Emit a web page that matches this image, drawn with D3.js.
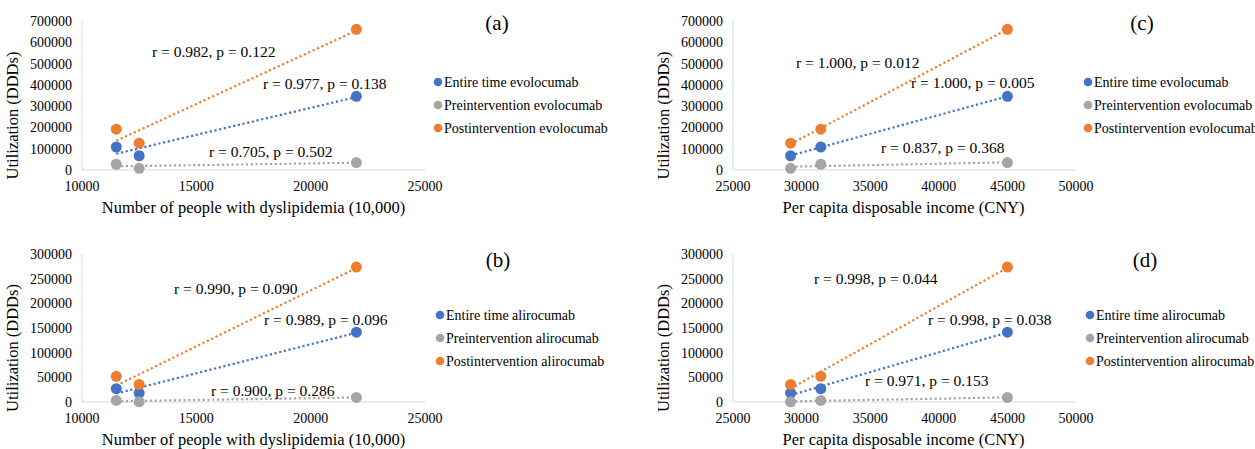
<!DOCTYPE html>
<html>
<head>
<meta charset="utf-8">
<script src="https://cdn.jsdelivr.net/npm/d3@7"></script>
<style>
  html, body { margin: 0; padding: 0; background: #fff; }
  svg text { font-family: "Liberation Serif", "Times New Roman", serif; fill: #000; }
</style>
</head>
<body>
<svg id="chart" width="1255" height="449"></svg>
<script>
// ---- data ----
const dyslipidemia = [11500, 12500, 22000];   // x for panels (a),(b)
const income = [31400, 29200, 45000];         // x for panels (c),(d)
const evoEntire = [108000, 67000, 346000];
const evoPre = [27000, 8000, 35000];
const evoPost = [192000, 126000, 661000];
const aliEntire = [27000, 18000, 141500];
const aliPre = [3200, 500, 9300];
const aliPost = [52000, 35500, 273500];
const xTicksA = [10000, 15000, 20000, 25000];
const xTicksC = [25000, 30000, 35000, 40000, 45000, 50000];
const yTicksEvo = [0, 100000, 200000, 300000, 400000, 500000, 600000, 700000];
const yTicksAli = [0, 50000, 100000, 150000, 200000, 250000, 300000];
const evoLegend = ["Entire time evolocumab", "Preintervention evolocumab", "Postintervention evolocumab"];
const aliLegend = ["Entire time alirocumab", "Preintervention alirocumab", "Postintervention alirocumab"];
const statsA = ["r = 0.977, p = 0.138", "r = 0.705, p = 0.502", "r = 0.982, p = 0.122"];
const statsB = ["r = 0.989, p = 0.096", "r = 0.900, p = 0.286", "r = 0.990, p = 0.090"];
const statsC = ["r = 1.000, p = 0.005", "r = 0.837, p = 0.368", "r = 1.000, p = 0.012"];
const statsD = ["r = 0.998, p = 0.038", "r = 0.971, p = 0.153", "r = 0.998, p = 0.044"];

const colors = ["#4472C4", "#A5A5A5", "#ED7D31"];
const svg = d3.select("#chart");

function regression(xs, ys) {
  const mx = d3.mean(xs), my = d3.mean(ys);
  let sxy = 0, sxx = 0;
  xs.forEach((x, i) => { sxy += (x - mx) * (ys[i] - my); sxx += (x - mx) * (x - mx); });
  const b = sxy / sxx;
  return x => my + b * (x - mx);
}

function drawPanel(p) {
  const g = svg.append("g");
  const x = d3.scaleLinear().domain(p.xDomain).range([p.left, p.right]);
  const y = d3.scaleLinear().domain(p.yDomain).range([p.bottom, p.top]);

  // axes lines
  g.append("line").attr("x1", p.left).attr("x2", p.left).attr("y1", p.top).attr("y2", p.bottom)
    .attr("stroke", "#d9d9d9").attr("stroke-width", 1);
  g.append("line").attr("x1", p.left).attr("x2", p.right).attr("y1", p.bottom).attr("y2", p.bottom)
    .attr("stroke", "#d9d9d9").attr("stroke-width", 1);

  // y tick labels
  g.selectAll(".yt").data(p.yTicks).enter().append("text")
    .attr("x", p.left - 10).attr("y", d => y(d) + 5)
    .attr("text-anchor", "end").attr("font-size", 14).text(d => d);
  // x tick labels
  g.selectAll(".xt").data(p.xTicks).enter().append("text")
    .attr("x", d => x(d)).attr("y", p.bottom + 21)
    .attr("text-anchor", "middle").attr("font-size", 14).text(d => d);

  // axis titles
  g.append("text").attr("x", (p.left + p.right) / 2 + p.xTitleDx).attr("y", p.bottom + 43)
    .attr("text-anchor", "middle").attr("font-size", 16.5).text(p.xTitle);
  g.append("text")
    .attr("transform", `translate(${p.left - 64},${(p.top + p.bottom) / 2 + 20}) rotate(-90)`)
    .attr("text-anchor", "middle").attr("font-size", 16.5).text("Utilization (DDDs)");

  // trendlines (drawn first) and points
  p.series.forEach((s, i) => {
    const f = regression(p.xs, s);
    const [x0, x1] = d3.extent(p.xs);
    g.append("line")
      .attr("x1", x(x0)).attr("y1", y(f(x0)))
      .attr("x2", x(x1)).attr("y2", y(f(x1)))
      .attr("stroke", colors[i]).attr("stroke-width", 2.2)
      .attr("stroke-dasharray", "2.2,2.6");
  });
  p.series.forEach((s, i) => {
    g.selectAll(".pt" + i).data(s).enter().append("circle")
      .attr("cx", (d, j) => x(p.xs[j])).attr("cy", d => y(d))
      .attr("r", 5.5).attr("fill", colors[i]);
  });

  // stats annotations
  p.stats.forEach((t, i) => {
    g.append("text").attr("x", p.statPos[i][0]).attr("y", p.statPos[i][1])
      .attr("font-size", 15.5).text(t);
  });

  // legend
  p.legend.forEach((t, i) => {
    const ly = p.legendY + i * 23;
    g.append("circle").attr("cx", p.legendX).attr("cy", ly).attr("r", 4.3).attr("fill", colors[i]);
    g.append("text").attr("x", p.legendX + 6).attr("y", ly + 5).attr("font-size", 14).text(t);
  });

  // panel label
  g.append("text").attr("x", p.labelX).attr("y", p.labelY)
    .attr("text-anchor", "middle").attr("font-size", 21).text(p.label);
}

const panels = [
  { label: "(a)", labelX: 497, labelY: 30,
    left: 82, right: 425, top: 21, bottom: 170,
    xDomain: [10000, 25000], yDomain: [0, 700000], xTicks: xTicksA, yTicks: yTicksEvo,
    xs: dyslipidemia, series: [evoEntire, evoPre, evoPost],
    xTitle: "Number of people with dyslipidemia (10,000)", xTitleDx: 0,
    stats: statsA, statPos: [[263, 89], [209, 157], [152, 57]],
    legend: evoLegend, legendX: 438, legendY: 82 },
  { label: "(c)", labelX: 1142, labelY: 30,
    left: 733, right: 1076, top: 21, bottom: 170,
    xDomain: [25000, 50000], yDomain: [0, 700000], xTicks: xTicksC, yTicks: yTicksEvo,
    xs: income, series: [evoEntire, evoPre, evoPost],
    xTitle: "Per capita disposable income (CNY)", xTitleDx: -1,
    stats: statsC, statPos: [[911, 88], [881, 153], [796, 68]],
    legend: evoLegend, legendX: 1088, legendY: 82 },
  { label: "(b)", labelX: 498, labelY: 267,
    left: 82, right: 425, top: 254, bottom: 402,
    xDomain: [10000, 25000], yDomain: [0, 300000], xTicks: xTicksA, yTicks: yTicksAli,
    xs: dyslipidemia, series: [aliEntire, aliPre, aliPost],
    xTitle: "Number of people with dyslipidemia (10,000)", xTitleDx: 0,
    stats: statsB, statPos: [[264, 325], [211, 396], [174, 294]],
    legend: aliLegend, legendX: 440, legendY: 315 },
  { label: "(d)", labelX: 1145, labelY: 267,
    left: 733, right: 1076, top: 254, bottom: 402,
    xDomain: [25000, 50000], yDomain: [0, 300000], xTicks: xTicksC, yTicks: yTicksAli,
    xs: income, series: [aliEntire, aliPre, aliPost],
    xTitle: "Per capita disposable income (CNY)", xTitleDx: -1,
    stats: statsD, statPos: [[928, 325], [865, 386], [814, 284]],
    legend: aliLegend, legendX: 1090, legendY: 315 }
];

panels.forEach(drawPanel);
</script>
</body>
</html>
